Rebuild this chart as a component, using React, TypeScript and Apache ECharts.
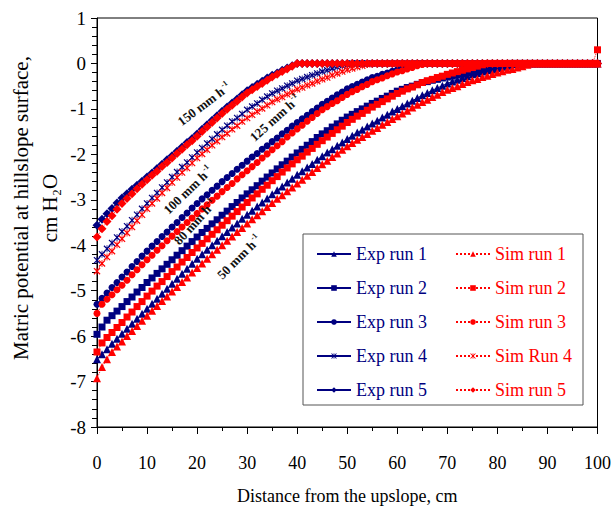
import React, { useEffect, useRef } from "react";
import * as echarts from "echarts";

// Distance from the upslope (cm) — one reading every centimetre
const distance = [
  0, 1, 2, 3, 4, 5, 6, 7, 8, 9, 10, 11, 12, 13, 14, 15, 16, 17, 18, 19, 20,
  21, 22, 23, 24, 25, 26, 27, 28, 29, 30, 31, 32, 33, 34, 35, 36, 37, 38, 39, 40,
  41, 42, 43, 44, 45, 46, 47, 48, 49, 50, 51, 52, 53, 54, 55, 56, 57, 58, 59, 60,
  61, 62, 63, 64, 65, 66, 67, 68, 69, 70, 71, 72, 73, 74, 75, 76, 77, 78, 79, 80,
  81, 82, 83, 84, 85, 86, 87, 88, 89, 90, 91, 92, 93, 94, 95, 96, 97, 98, 99, 100,
];

// Experimental runs (cm H2O)
const expRun1 = [
  -6.51, -6.4, -6.29, -6.17, -6.06, -5.95, -5.84, -5.73, -5.62, -5.51, -5.4,
  -5.29, -5.18, -5.07, -4.96, -4.85, -4.74, -4.63, -4.52, -4.41, -4.3,
  -4.2, -4.1, -4, -3.9, -3.8, -3.71, -3.61, -3.52, -3.42, -3.33,
  -3.24, -3.15, -3.06, -2.97, -2.88, -2.79, -2.71, -2.62, -2.54, -2.45,
  -2.37, -2.29, -2.21, -2.12, -2.04, -1.96, -1.89, -1.81, -1.74, -1.66,
  -1.59, -1.52, -1.46, -1.39, -1.32, -1.26, -1.19, -1.13, -1.06, -1,
  -0.94, -0.88, -0.82, -0.76, -0.7, -0.65, -0.59, -0.54, -0.49, -0.44,
  -0.4, -0.36, -0.32, -0.28, -0.24, -0.21, -0.18, -0.15, -0.13, -0.1,
  -0.07, -0.05, -0.02, 0, 0, 0, 0, 0, 0, 0,
  0, 0, 0, 0, 0, 0, 0, 0, 0, 0,
];
const expRun2 = [
  -5.96, -5.8, -5.65, -5.55, -5.45, -5.35, -5.24, -5.14, -5.03, -4.93, -4.82,
  -4.72, -4.62, -4.52, -4.42, -4.32, -4.22, -4.12, -4.02, -3.92, -3.82,
  -3.72, -3.63, -3.53, -3.44, -3.34, -3.25, -3.15, -3.06, -2.96, -2.87,
  -2.78, -2.69, -2.59, -2.5, -2.41, -2.32, -2.23, -2.15, -2.06, -1.97,
  -1.89, -1.8, -1.72, -1.63, -1.55, -1.48, -1.4, -1.33, -1.25, -1.18,
  -1.12, -1.06, -1, -0.94, -0.88, -0.83, -0.77, -0.72, -0.66, -0.61,
  -0.57, -0.53, -0.5, -0.46, -0.42, -0.4, -0.37, -0.35, -0.32, -0.3,
  -0.28, -0.25, -0.23, -0.2, -0.18, -0.16, -0.14, -0.12, -0.1, -0.08,
  -0.05, -0.03, 0, 0, 0, 0, 0, 0, 0, 0,
  0, 0, 0, 0, 0, 0, 0, 0, 0, 0,
];
const expRun3 = [
  -5.3, -5.17, -5.05, -4.93, -4.82, -4.7, -4.59, -4.47, -4.36, -4.24, -4.13,
  -4.02, -3.92, -3.81, -3.71, -3.6, -3.5, -3.39, -3.29, -3.18, -3.08,
  -2.98, -2.89, -2.79, -2.7, -2.6, -2.51, -2.42, -2.33, -2.24, -2.15,
  -2.06, -1.98, -1.89, -1.81, -1.72, -1.64, -1.55, -1.47, -1.38, -1.3,
  -1.22, -1.14, -1.06, -0.98, -0.9, -0.83, -0.76, -0.69, -0.63, -0.56,
  -0.51, -0.46, -0.41, -0.36, -0.31, -0.28, -0.24, -0.21, -0.17, -0.14,
  -0.11, -0.07, -0.04, 0, 0, 0, 0, 0, 0, 0,
  0, 0, 0, 0, 0, 0, 0, 0, 0, 0,
  0, 0, 0, 0, 0, 0, 0, 0, 0, 0,
  0, 0, 0, 0, 0, 0, 0, 0, 0, 0,
];
const expRun4 = [
  -4.33, -4.2, -4.08, -3.95, -3.83, -3.7, -3.58, -3.45, -3.33, -3.2, -3.08,
  -2.96, -2.85, -2.73, -2.62, -2.5, -2.39, -2.28, -2.18, -2.07, -1.96,
  -1.86, -1.76, -1.66, -1.56, -1.46, -1.37, -1.28, -1.2, -1.11, -1.02,
  -0.95, -0.88, -0.8, -0.73, -0.66, -0.6, -0.55, -0.49, -0.44, -0.38,
  -0.34, -0.3, -0.26, -0.22, -0.18, -0.15, -0.11, -0.08, -0.05, -0.03,
  0, 0, 0, 0, 0, 0, 0, 0, 0, 0,
  0, 0, 0, 0, 0, 0, 0, 0, 0, 0,
  0, 0, 0, 0, 0, 0, 0, 0, 0, 0,
  0, 0, 0, 0, 0, 0, 0, 0, 0, 0,
  0, 0, 0, 0, 0, 0, 0, 0, 0, 0,
];
const expRun5 = [
  -3.56, -3.43, -3.31, -3.19, -3.07, -2.96, -2.87, -2.77, -2.68, -2.59, -2.5,
  -2.41, -2.31, -2.22, -2.12, -2.03, -1.93, -1.84, -1.74, -1.65, -1.55,
  -1.45, -1.35, -1.25, -1.15, -1.05, -0.96, -0.87, -0.78, -0.69, -0.6,
  -0.53, -0.46, -0.39, -0.32, -0.26, -0.21, -0.15, -0.1, -0.05, 0,
  0, 0, 0, 0, 0, 0, 0, 0, 0, 0,
  0, 0, 0, 0, 0, 0, 0, 0, 0, 0,
  0, 0, 0, 0, 0, 0, 0, 0, 0, 0,
  0, 0, 0, 0, 0, 0, 0, 0, 0, 0,
  0, 0, 0, 0, 0, 0, 0, 0, 0, 0,
  0, 0, 0, 0, 0, 0, 0, 0, 0, 0,
];

// Simulated runs (cm H2O)
const simRun1 = [
  -6.93, -6.68, -6.51, -6.35, -6.23, -6.12, -6, -5.89, -5.78, -5.66, -5.55,
  -5.44, -5.34, -5.23, -5.13, -5.02, -4.92, -4.81, -4.71, -4.6, -4.5,
  -4.4, -4.3, -4.2, -4.1, -4, -3.9, -3.81, -3.71, -3.62, -3.52,
  -3.43, -3.34, -3.25, -3.16, -3.07, -2.98, -2.9, -2.81, -2.73, -2.64,
  -2.56, -2.47, -2.39, -2.3, -2.22, -2.14, -2.06, -1.98, -1.9, -1.82,
  -1.75, -1.68, -1.62, -1.55, -1.48, -1.42, -1.35, -1.29, -1.22, -1.16,
  -1.1, -1.04, -0.97, -0.91, -0.85, -0.8, -0.74, -0.69, -0.63, -0.58,
  -0.54, -0.5, -0.45, -0.41, -0.37, -0.34, -0.3, -0.27, -0.23, -0.2,
  -0.17, -0.14, -0.12, -0.09, -0.06, -0.03, 0, 0, 0, 0,
  0, 0, 0, 0, 0, 0, 0, 0, 0, 0,
];
const simRun2 = [
  -6.35, -6.15, -6.03, -5.92, -5.81, -5.7, -5.58, -5.47, -5.35, -5.24, -5.12,
  -5.01, -4.9, -4.8, -4.69, -4.58, -4.48, -4.37, -4.27, -4.16, -4.06,
  -3.96, -3.86, -3.76, -3.66, -3.56, -3.46, -3.36, -3.26, -3.16, -3.06,
  -2.96, -2.87, -2.77, -2.68, -2.58, -2.49, -2.39, -2.3, -2.21, -2.12,
  -2.04, -1.95, -1.87, -1.78, -1.7, -1.62, -1.54, -1.46, -1.38, -1.3,
  -1.23, -1.16, -1.1, -1.03, -0.96, -0.9, -0.84, -0.78, -0.72, -0.66,
  -0.61, -0.56, -0.52, -0.47, -0.42, -0.38, -0.35, -0.31, -0.28, -0.24,
  -0.21, -0.18, -0.15, -0.12, -0.09, -0.06, -0.03, 0, 0, 0,
  0, 0, 0, 0, 0, 0, 0, 0, 0, 0,
  0, 0, 0, 0, 0, 0, 0, 0, 0, 0.3,
];
const simRun3 = [
  -5.5, -5.3, -5.19, -5.09, -4.98, -4.88, -4.77, -4.65, -4.54, -4.43, -4.32,
  -4.22, -4.11, -4.01, -3.9, -3.8, -3.7, -3.6, -3.5, -3.4, -3.3,
  -3.2, -3.11, -3.01, -2.92, -2.82, -2.73, -2.64, -2.54, -2.45, -2.36,
  -2.27, -2.18, -2.08, -1.99, -1.9, -1.81, -1.72, -1.62, -1.53, -1.44,
  -1.36, -1.27, -1.19, -1.1, -1.02, -0.95, -0.88, -0.82, -0.75, -0.68,
  -0.62, -0.57, -0.51, -0.46, -0.4, -0.36, -0.32, -0.27, -0.23, -0.19,
  -0.16, -0.12, -0.09, -0.05, -0.02, 0, 0, 0, 0, 0,
  0, 0, 0, 0, 0, 0, 0, 0, 0, 0,
  0, 0, 0, 0, 0, 0, 0, 0, 0, 0,
  0, 0, 0, 0, 0, 0, 0, 0, 0, 0,
];
const simRun4 = [
  -4.57, -4.4, -4.26, -4.13, -3.99, -3.86, -3.73, -3.6, -3.46, -3.33, -3.2,
  -3.08, -2.97, -2.85, -2.74, -2.62, -2.51, -2.4, -2.3, -2.19, -2.08,
  -1.99, -1.9, -1.8, -1.71, -1.62, -1.54, -1.45, -1.37, -1.28, -1.2,
  -1.13, -1.06, -0.99, -0.92, -0.85, -0.79, -0.74, -0.68, -0.63, -0.57,
  -0.53, -0.48, -0.44, -0.39, -0.35, -0.31, -0.26, -0.22, -0.18, -0.14,
  -0.11, -0.08, -0.05, -0.02, 0, 0, 0, 0, 0, 0,
  0, 0, 0, 0, 0, 0, 0, 0, 0, 0,
  0, 0, 0, 0, 0, 0, 0, 0, 0, 0,
  0, 0, 0, 0, 0, 0, 0, 0, 0, 0,
  0, 0, 0, 0, 0, 0, 0, 0, 0, 0,
];
const simRun5 = [
  -3.82, -3.64, -3.48, -3.35, -3.21, -3.08, -2.97, -2.87, -2.76, -2.66, -2.56,
  -2.46, -2.37, -2.27, -2.18, -2.08, -1.98, -1.89, -1.79, -1.7, -1.6,
  -1.5, -1.4, -1.3, -1.2, -1.1, -1.01, -0.92, -0.83, -0.74, -0.65,
  -0.58, -0.51, -0.44, -0.37, -0.3, -0.24, -0.18, -0.12, -0.06, 0,
  0, 0, 0, 0, 0, 0, 0, 0, 0, 0,
  0, 0, 0, 0, 0, 0, 0, 0, 0, 0,
  0, 0, 0, 0, 0, 0, 0, 0, 0, 0,
  0, 0, 0, 0, 0, 0, 0, 0, 0, 0,
  0, 0, 0, 0, 0, 0, 0, 0, 0, 0,
  0, 0, 0, 0, 0, 0, 0, 0, 0, 0,
];

const expNames = ["Exp run 1", "Exp run 2", "Exp run 3", "Exp run 4", "Exp run 5"];
const simNames = ["Sim run 1", "Sim run 2", "Sim run 3", "Sim Run 4", "Sim run 5"];
const rainLabels = ["150 mm h", "125 mm h", "100 mm h", "80 mm h", "50 mm h"];
const yTitle = "Matric potential at hillslope surface,\ncm H₂O";
const xTitle = "Distance from the upslope, cm";

const SERIF = "Liberation Serif";
const NAVY = "#000080";
const RED = "#FF0000";
// asterisk drawn as three thin filled bars
const STAR =
  "path://M0 1.2L1.2 0L10 8.8L8.8 10Z M8.8 0L10 1.2L1.2 10L0 8.8Z M4.4 0L5.6 0L5.6 10L4.4 10Z";

export default function App() {
  const ref = useRef<HTMLDivElement>(null);

  useEffect(() => {
    if (!ref.current) return;
    const chart = echarts.init(ref.current, null, { renderer: "svg" });

    const expData = [expRun1, expRun2, expRun3, expRun4, expRun5];
    const simData = [simRun1, simRun2, simRun3, simRun4, simRun5];
    const symbols = ["triangle", "rect", "circle", STAR, "diamond"];
    const sizes = [8, 7, 7, 7, 9];
    const pairs = (vals: number[]) => distance.map((d, i) => [d, vals[i]]);

    const series: any[] = [];
    expData.forEach((vals, i) => {
      series.push({
        name: expNames[i],
        type: "line",
        data: pairs(vals),
        symbol: symbols[i],
        symbolSize: sizes[i],
        showAllSymbol: true,
        lineStyle: { color: NAVY, width: 1 },
        itemStyle: { color: NAVY },
        z: 2,
      });
    });
    simData.forEach((vals, i) => {
      series.push({
        name: simNames[i],
        type: "line",
        data: pairs(vals),
        symbol: symbols[i],
        symbolSize: sizes[i],
        showAllSymbol: true,
        lineStyle: { color: RED, width: 1, type: "dotted" },
        itemStyle: { color: RED },
        z: 3,
      });
    });

    const labelPos = [
      { x: 204, y: 104, r: 37 },
      { x: 275, y: 118, r: 42 },
      { x: 188, y: 190, r: 44 },
      { x: 195, y: 222, r: 48 },
      { x: 239, y: 257, r: 45 },
    ];

    const legendCommon = {
      orient: "vertical",
      top: 245,
      padding: 0,
      itemWidth: 34,
      itemHeight: 7,
      itemGap: 16,
      selectedMode: false,
    };

    chart.setOption({
      animation: false,
      backgroundColor: "#ffffff",
      grid: {
        left: 97,
        top: 18,
        width: 501,
        height: 409,
        show: true,
        borderColor: "#000",
        borderWidth: 1,
        backgroundColor: "transparent",
      },
      xAxis: {
        type: "value",
        min: 0,
        max: 100,
        interval: 10,
        name: xTitle,
        nameLocation: "middle",
        nameGap: 60,
        nameTextStyle: { fontFamily: SERIF, fontSize: 18, color: "#000" },
        axisLine: { onZero: false, lineStyle: { color: "#000", width: 1 } },
        axisTick: { show: true, inside: false, length: 7, lineStyle: { color: "#000" } },
        minorTick: { show: true, splitNumber: 2, length: 4, lineStyle: { color: "#000" } },
        axisLabel: { fontFamily: SERIF, fontSize: 18, color: "#000", margin: 27 },
        splitLine: { show: false },
      },
      yAxis: {
        type: "value",
        min: -8,
        max: 1,
        interval: 1,
        axisLine: { onZero: false, lineStyle: { color: "#000", width: 1 } },
        axisTick: { show: true, inside: false, length: 6, lineStyle: { color: "#000" } },
        minorTick: { show: true, splitNumber: 5, length: 5, lineStyle: { color: "#000" } },
        axisLabel: { fontFamily: SERIF, fontSize: 19, color: "#000", margin: 11 },
        splitLine: { show: false },
      },
      legend: [
        {
          ...legendCommon,
          data: expNames,
          left: 316,
          textStyle: { fontFamily: SERIF, fontSize: 18, color: NAVY },
        },
        {
          ...legendCommon,
          data: simNames,
          left: 455,
          textStyle: { fontFamily: SERIF, fontSize: 18, color: RED },
        },
      ],
      graphic: [
        {
          type: "rect",
          shape: { x: 303, y: 234, width: 280, height: 171 },
          style: { fill: "none", stroke: "#555", lineWidth: 1 },
          z: 1,
        },
        {
          type: "text",
          x: 35,
          y: 208,
          rotation: Math.PI / 2,
          z: 10,
          style: {
            text: yTitle,
            align: "center",
            verticalAlign: "middle",
            fontFamily: SERIF,
            fontSize: 21,
            lineHeight: 29,
            fill: "#000",
          },
        },
        ...rainLabels.map((t, i) => ({
          type: "text",
          x: labelPos[i].x,
          y: labelPos[i].y,
          rotation: (labelPos[i].r * Math.PI) / 180,
          z: 10,
          style: {
            text: `{a|${t}}{s|-1}`,
            align: "center",
            verticalAlign: "middle",
            rich: {
              a: { fontFamily: SERIF, fontSize: 13, fontWeight: "bold", fill: "#111" },
              s: { fontFamily: SERIF, fontSize: 8, fontWeight: "bold", fill: "#111", padding: [0, 0, 8, 1] },
            },
          },
        })),
      ],
      series,
    });

    return () => chart.dispose();
  }, []);

  return (
    <div
      ref={ref}
      style={{ position: "absolute", left: 0, top: 0, width: 614, height: 510, background: "#fff" }}
    />
  );
}
